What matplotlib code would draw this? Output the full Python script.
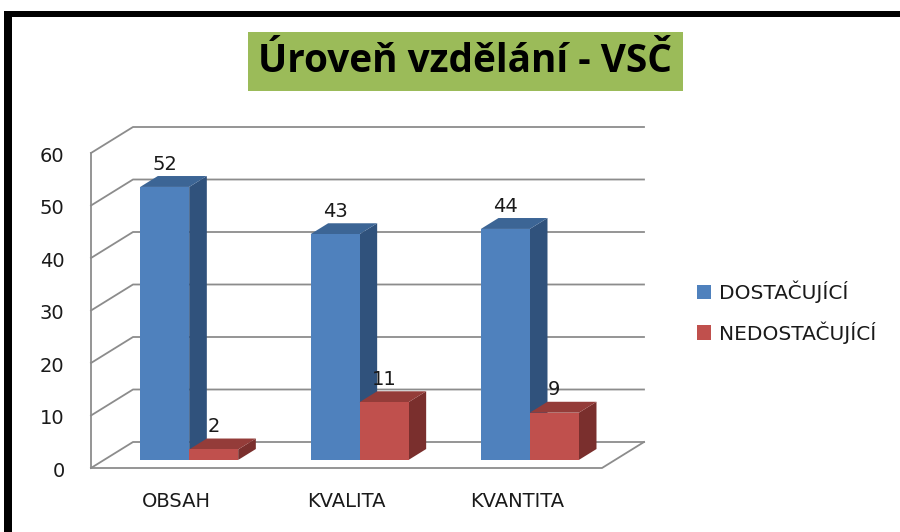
import matplotlib
matplotlib.use('Agg')
import matplotlib.pyplot as plt
from matplotlib.patches import Polygon, Rectangle, Patch
from matplotlib.lines import Line2D

# ---------------- data ----------------
categories = ['OBSAH', 'KVALITA', 'KVANTITA']
series_names = ['DOSTAČUJÍCÍ', 'NEDOSTAČUJÍCÍ']
dostacujici = [52, 43, 44]
nedostacujici = [2, 11, 9]
yticks = [0, 10, 20, 30, 40, 50, 60]
title = 'Úroveň vzdělání - VSČ'

# ---------------- styling ----------------
W, H = 900, 532
front_cols = ['#4F81BD', '#C0504D']
top_cols = ['#3C6595', '#943C39']
side_cols = ['#30527C', '#7A2F2D']
grid_col = '#8C8C8C'
txt_col = '#1a1a1a'
plt.rcParams['font.family'] = ['DejaVu Sans']

fig = plt.figure(figsize=(W / 100, H / 100), dpi=100)
fig.patch.set_facecolor('white')


def fx(px):
    return px / W


def fy(py):
    return 1 - py / H


# front plane of the 3D box
ax = fig.add_axes([fx(91), fy(468), (602 - 91) / W, (468 - 153) / H])
ax.set_xlim(-0.5, len(categories) - 0.5)
ax.set_ylim(0, 60)
ax.axis('off')

# depth projection (full depth offset in pixels -> data units)
DX_PX, DY_PX = 42, 26
px_per_x = (602 - 91) / (ax.get_xlim()[1] - ax.get_xlim()[0])
px_per_y = (468 - 153) / (ax.get_ylim()[1] - ax.get_ylim()[0])
DXd = DX_PX / px_per_x
DYd = DY_PX / px_per_y


def P(x, y, d):
    return (x + d * DXd, y + d * DYd)


x0, x1 = ax.get_xlim()
lw_grid = 1.3
# gridlines on left wall and back wall
for v in yticks:
    a, b = P(x0, v, 0), P(x0, v, 1)
    c = P(x1, v, 1)
    ax.add_line(Line2D([a[0], b[0], c[0]], [a[1], b[1], c[1]], color=grid_col,
                       lw=lw_grid, clip_on=False, zorder=1))
    ax.annotate(str(v), xy=(x0, v), xytext=(-19, -2.5), textcoords='offset points',
                ha='right', va='center', fontsize=14, color=txt_col,
                annotation_clip=False)
# front vertical axis line
ax.add_line(Line2D([x0, x0], [0, 60], color=grid_col, lw=lw_grid, clip_on=False, zorder=1))
# floor front & right edges
fr = P(x1, 0, 1)
ax.add_line(Line2D([x0, x1, fr[0]], [0, 0, fr[1]], color=grid_col, lw=lw_grid,
                   clip_on=False, zorder=1))

# bars
bw = 49 / px_per_x
d0, d1 = 0.31, 0.73
series = [dostacujici, nedostacujici]
z = 3
for j, cat in enumerate(categories):
    for i, vals in enumerate(series):
        v = vals[j]
        xl = j - bw + i * bw
        xr = xl + bw
        side = [P(xr, 0, d0), P(xr, v, d0), P(xr, v, d1), P(xr, 0, d1)]
        top = [P(xl, v, d0), P(xr, v, d0), P(xr, v, d1), P(xl, v, d1)]
        front = [P(xl, 0, d0), P(xr, 0, d0), P(xr, v, d0), P(xl, v, d0)]
        ax.add_patch(Polygon(side, closed=True, fc=side_cols[i], ec='none',
                             clip_on=False, zorder=z))
        ax.add_patch(Polygon(top, closed=True, fc=top_cols[i], ec='none',
                             clip_on=False, zorder=z))
        ax.add_patch(Polygon(front, closed=True, fc=front_cols[i], ec='none',
                             clip_on=False, zorder=z))
        z += 1
        cx, cy = P((xl + xr) / 2, v, d0)
        ax.annotate(str(v), xy=(cx, cy), xytext=(0, 16.5), textcoords='offset points',
                    ha='center', va='center', fontsize=14, color=txt_col,
                    annotation_clip=False, zorder=20)
    ax.annotate(cat, xy=(j, 0), xytext=(0, -23.8), textcoords='offset points',
                ha='center', va='center', fontsize=14, color=txt_col,
                annotation_clip=False)

# legend
handles = [Patch(facecolor=front_cols[k], edgecolor='none', label=series_names[k])
           for k in range(2)]
fig.legend(handles=handles, loc='center left', bbox_to_anchor=(fx(697), fy(312)),
           frameon=False, fontsize=14.5, handlelength=0.7, handleheight=0.7,
           handletextpad=0.4, labelspacing=0.9, borderaxespad=0, borderpad=0,
           labelcolor=txt_col)

# title box
fig.patches.append(Rectangle((fx(248), fy(91)), (683 - 248) / W, (91 - 32) / H,
                             transform=fig.transFigure, fc='#9BBB59', ec='none', zorder=0))
t = fig.text(fx(465.5), fy(62), title, ha='center', va='center', fontweight='bold',
             fontsize=30, color='black',
             family=['Liberation Sans Narrow', 'Open Sans', 'DejaVu Sans'])
fig.canvas.draw()
bb = t.get_window_extent()
t.set_fontsize(30 * 414 / bb.width)

# black border (top and left)
fig.patches.append(Rectangle((fx(4), fy(17)), (W - 4) / W, 6 / H,
                             transform=fig.transFigure, fc='black', ec='none', zorder=5))
fig.patches.append(Rectangle((fx(4), 0), 8 / W, fy(11),
                             transform=fig.transFigure, fc='black', ec='none', zorder=5))

fig.savefig('out.png', dpi=100, facecolor='white')
